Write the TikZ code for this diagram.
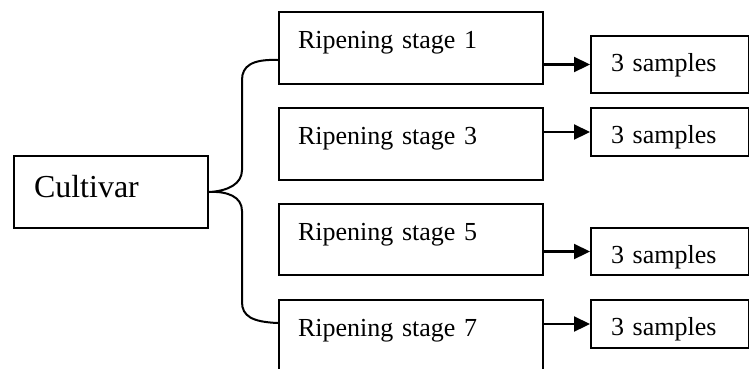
\documentclass[tikz,border=0pt]{standalone}
\usepackage{fontspec}
\setmainfont{Liberation Serif}
\usetikzlibrary{arrows.meta}

\begin{document}
\begin{tikzpicture}[x=1pt,y=1pt]
        \tikzstyle{every node}+=[inner sep=0pt]
        \tikzstyle{box}=[draw, line width=2pt, anchor=north west, align=left]
        \tikzstyle{stage}=[box, font=\fontsize{26}{30}\selectfont, inner xsep=19pt, text width=226pt, text height=36pt, text depth=36pt]
        \tikzstyle{sample}=[box, font=\fontsize{26}{30}\selectfont, inner xsep=20pt, text width=118pt, text height=35pt]
        \tikzstyle{arr}=[line width=2.2pt, -{Triangle[length=16pt,width=15pt]}]
        \useasboundingbox (0,0) rectangle (749,-368);
        \node [box, font=\fontsize{32}{36}\selectfont, inner xsep=20pt, text width=154pt, text height=41pt, text depth=31pt] (cv) at (13,-155) {Cultivar};
        \node [stage] (s1) at (278,-11) {Ripening stage 1};
        \node [stage] (s3) at (278,-107) {Ripening stage 3};
        \node [stage, text depth=35pt] (s5) at (278,-203) {Ripening stage 5};
        \node [stage] (s7) at (278,-299) {Ripening stage 7};
        \node [sample, text depth=22pt] (p1) at (590,-35) {3 samples};
        \node [sample, text depth=13pt] (p3) at (590,-107) {3 samples};
        \node [sample, text depth=12pt] (p5) at (590,-227) {3 samples};
        \node [sample, text depth=13pt] (p7) at (590,-299) {3 samples};
        % brace
        \coordinate (b1) at ([yshift=-12pt]s1.west);
        \coordinate (b7) at ([yshift=13pt]s7.west);
        \draw [line width=2pt] (b1) .. controls (252,-59) and (242,-66) .. (242,-80) -- (242,-170)
              .. controls (242,-184) and (228,-191) .. (cv.east)
              .. controls (228,-191) and (242,-197) .. (242,-211) -- (242,-302)
              .. controls (242,-316) and (252,-322) .. (b7);
        % arrows
        \draw [arr] (s1.east |- p1.west) -- (p1.west);
        \draw [arr] (s3.east |- p3.west) -- (p3.west);
        \draw [arr] (s5.east |- p5.west) -- (p5.west);
        \draw [arr] (s7.east |- p7.west) -- (p7.west);
\end{tikzpicture}
\end{document}
